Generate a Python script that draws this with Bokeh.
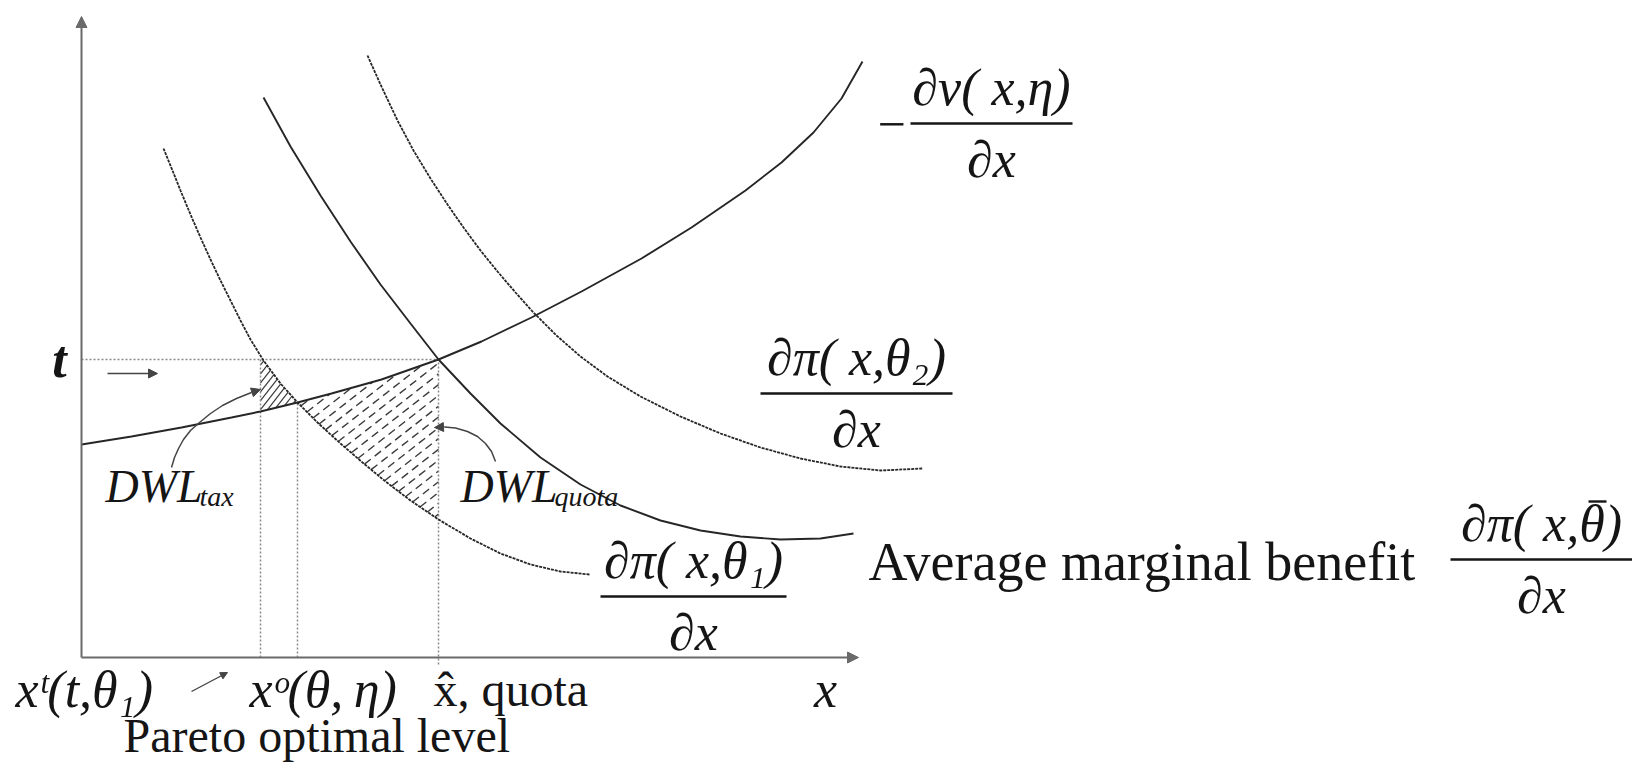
import numpy as np
from bokeh.plotting import figure
from bokeh.models import Range1d, Label, Arrow, NormalHead
from bokeh.embed import file_html
from bokeh.resources import INLINE

# ---------------------------------------------------------------------------
# Curves (horizontal: emissions x, vertical: money per unit of x)
# ---------------------------------------------------------------------------
# marginal damage  -dv(x,eta)/dx
md_x = [0, 5, 10, 15, 17.9, 21.6, 25, 30, 35.7, 40, 45, 50, 56, 61, 66.4, 70, 73.2, 76, 78.1]
md_y = [21.3, 22.1, 23.0, 24.0, 24.6, 25.5, 26.4, 27.8, 29.8, 31.6, 34.0, 36.6, 39.9, 43.0,
        46.7, 49.5, 52.5, 55.9, 59.6]

# marginal benefit of the low type  d pi(x,theta_1)/dx
mb1_x = [8.2, 9.1, 9.9, 10.9, 11.9, 12.9, 13.9, 14.9, 15.9, 16.9, 18.2, 19.9, 21.6, 23.7,
         25.9, 28.1, 30.4, 32.9, 35.7, 38.9, 41.9, 44.9, 47.9, 50.8]
mb1_y = [50.9, 48.7, 46.7, 44.3, 42.0, 39.8, 37.7, 35.7, 33.7, 31.8, 29.7, 27.4, 25.5, 23.4,
         21.4, 19.5, 17.6, 15.7, 13.8, 11.9, 10.4, 9.3, 8.6, 8.3]

# average marginal benefit  d pi(x,theta_bar)/dx
mbavg_x = [18.2, 20.9, 23.9, 26.9, 29.9, 32.9, 35.7, 38.9, 41.9, 45.9, 49.9, 53.9, 57.9,
           61.9, 65.9, 69.9, 73.9, 77.2]
mbavg_y = [56.0, 51.1, 46.2, 41.6, 37.3, 33.4, 29.8, 26.4, 23.4, 20.0, 17.3, 15.2, 13.7,
           12.7, 12.1, 11.8, 11.9, 12.4]

# marginal benefit of the high type  d pi(x,theta_2)/dx
mb2_x = [28.6, 29.9, 31.6, 33.2, 34.9, 36.6, 38.2, 39.9, 41.6, 43.4, 45.1, 47.5, 49.9, 52.6,
         55.9, 59.9, 63.9, 67.9, 71.9, 75.9, 79.9, 84.1]
mb2_y = [60.2, 57.3, 53.7, 50.7, 47.9, 45.3, 43.0, 40.7, 38.6, 36.5, 34.6, 32.2, 30.1, 28.1,
         26.1, 24.1, 22.4, 21.0, 19.9, 19.1, 18.7, 18.9]

# policy levels
t_level = 29.8      # tax
x_tax = 17.9        # x^t(t, theta_1)
x_opt = 21.6        # Pareto optimal x^o
x_quota = 35.7      # quota x-hat

x_axis_end = 77.7
y_axis_end = 64.1

# callout arrows
tax_arrow_x = [9.0, 9.3, 9.7, 10.2, 10.9, 11.8, 12.9, 14.1, 15.5, 17.0, 17.9]
tax_arrow_y = [19.0, 20.0, 20.9, 21.8, 22.7, 23.5, 24.4, 25.2, 25.9, 26.5, 26.8]
quota_arrow_x = [41.4, 41.0, 40.4, 39.6, 38.6, 37.4, 36.3, 35.3]
quota_arrow_y = [19.6, 20.6, 21.4, 22.1, 22.6, 22.95, 23.05, 23.0]

INK = "#151515"
CURVE = "#262626"
GRID = "#8a8a8a"
AXIS = "#6a6a6a"
SERIF = "Liberation Serif"

p = figure(width=1632, height=771, x_range=Range1d(-8.1, 155.1), y_range=Range1d(-11.4, 65.7),
           output_backend="svg", toolbar_location=None, min_border=0,
           x_axis_location=None, y_axis_location=None)
p.grid.visible = False
p.outline_line_color = None
p.background_fill_color = "white"
p.border_fill_color = "white"

md_xa, md_ya = np.array(md_x), np.array(md_y)
mb1_xa, mb1_ya = np.array(mb1_x), np.array(mb1_y)


def md(x):
    return float(np.interp(x, md_xa, md_ya))


def mb1(x):
    return float(np.interp(x, mb1_xa, mb1_ya))


# ---------------------------------------------------------------------------
# dead-weight-loss regions
# ---------------------------------------------------------------------------
x_cross = float(np.interp(t_level, mb1_ya[::-1], mb1_xa[::-1]))
s1 = (mb1_xa > x_cross) & (mb1_xa < x_opt)
sm = (md_xa > x_tax) & (md_xa < x_opt)
tax_px = [x_tax, x_cross] + list(mb1_xa[s1]) + [x_opt] + list(md_xa[sm][::-1]) + [x_tax]
tax_py = [t_level, t_level] + list(mb1_ya[s1]) + [md(x_opt)] + list(md_ya[sm][::-1]) + [md(x_tax)]

sm2 = (md_xa > x_opt) & (md_xa < x_quota)
s12 = (mb1_xa > x_opt) & (mb1_xa < x_quota)
quota_px = [x_opt] + list(md_xa[sm2]) + [x_quota, x_quota] + list(mb1_xa[s12][::-1])
quota_py = [md(x_opt)] + list(md_ya[sm2]) + [md(x_quota), mb1(x_quota)] + list(mb1_ya[s12][::-1])


def hatch_lines(px, py, angle_deg, spacing):
    """Clip a family of parallel lines to a polygon."""
    a = np.radians(angle_deg)
    d = np.array([np.cos(a), np.sin(a)])
    n = np.array([-d[1], d[0]])
    P = np.column_stack([px, py])
    offs = P @ n
    xs, ys = [], []
    for o in np.arange(offs.min() + spacing * 0.5, offs.max(), spacing):
        ts = []
        for i in range(len(P)):
            a0, a1 = P[i], P[(i + 1) % len(P)]
            f0, f1 = a0 @ n - o, a1 @ n - o
            if (f0 < 0) != (f1 < 0):
                r = f0 / (f0 - f1)
                ts.append((a0 + r * (a1 - a0)) @ d)
        ts.sort()
        for t0, t1 in zip(ts[0::2], ts[1::2]):
            q0, q1 = o * n + t0 * d, o * n + t1 * d
            xs.append([q0[0], q1[0]])
            ys.append([q0[1], q1[1]])
    return xs, ys


hx, hy = hatch_lines(tax_px, tax_py, 52, 0.55)
p.multi_line(hx, hy, line_color="#3a3a3a", line_width=1.2)
hx, hy = hatch_lines(quota_px, quota_py, 38, 0.85)
p.multi_line(hx, hy, line_color="#3a3a3a", line_width=1.4, line_dash="8 5")

# ---------------------------------------------------------------------------
# guide lines
# ---------------------------------------------------------------------------
guide = dict(line_color=GRID, line_width=1.5, line_dash="2 2")
p.line([0, x_quota], [t_level, t_level], **guide)
p.line([x_tax, x_tax], [0, t_level], **guide)
p.line([x_opt, x_opt], [0, md(x_opt)], **guide)
p.line([x_quota, x_quota], [-0.7, t_level], **guide)

# ---------------------------------------------------------------------------
# curves
# ---------------------------------------------------------------------------
p.line(mb1_x, mb1_y, line_color=CURVE, line_width=1.8, line_dash="3 1")
p.line(mb2_x, mb2_y, line_color=CURVE, line_width=1.8, line_dash="3 1")
p.line(mbavg_x, mbavg_y, line_color=CURVE, line_width=1.9)
p.line(md_x, md_y, line_color=CURVE, line_width=1.9)

# ---------------------------------------------------------------------------
# axes
# ---------------------------------------------------------------------------
def arrow(x0, y0, x1, y1, color=AXIS, width=2.0, size=11):
    p.add_layout(Arrow(x_start=x0, y_start=y0, x_end=x1, y_end=y1,
                       line_color=color, line_width=width,
                       end=NormalHead(size=size, fill_color=color, line_color=color,
                                      line_width=1)))


arrow(0, 0, 0, y_axis_end)
arrow(0, 0, x_axis_end, 0)

# small arrows
arrow(2.6, t_level - 1.4, 7.6, t_level - 1.4, color="#444444", width=1.6, size=9)
arrow(11.0, -3.4, 14.6, -1.5, color="#444444", width=1.4, size=7)

p.line(tax_arrow_x[:-1], tax_arrow_y[:-1], line_color="#444444", line_width=1.5)
arrow(tax_arrow_x[-2], tax_arrow_y[-2], tax_arrow_x[-1], tax_arrow_y[-1],
      color="#444444", width=1.5, size=9)
p.line(quota_arrow_x[:-1], quota_arrow_y[:-1], line_color="#444444", line_width=1.5)
arrow(quota_arrow_x[-2], quota_arrow_y[-2], quota_arrow_x[-1], quota_arrow_y[-1],
      color="#444444", width=1.5, size=9)

# ---------------------------------------------------------------------------
# text
# ---------------------------------------------------------------------------
def label(x, y, text, size=48, style="italic", align="left", baseline="alphabetic",
          x_offset=0, y_offset=0):
    p.add_layout(Label(x=x, y=y, text=text, text_font=SERIF, text_font_size=f"{size}px",
                       text_font_style=style, text_align=align, text_baseline=baseline,
                       text_color=INK, x_offset=x_offset, y_offset=y_offset))


def fraction(cx, bar_y, half_w, num, den="∂x", size=52):
    p.segment(x0=cx - half_w, y0=bar_y, x1=cx + half_w, y1=bar_y,
              line_color=INK, line_width=2.6)
    label(cx, bar_y + 3.6, num, size=size, align="center")
    label(cx, bar_y - 3.6, den, size=size, align="center")


fraction(91.0, 53.4, 8.1, "∂v( x,η)")
label(79.6, 53.3, "−", size=50, style="normal")
fraction(77.5, 26.4, 9.6, "∂π( x,θ₂)")
fraction(61.2, 6.1, 9.3, "∂π( x,θ₁)")
fraction(146.0, 9.8, 9.1, "∂π( x,θ)")
# bar over theta
p.segment(x0=150.7, y0=15.6, x1=152.5, y1=15.6, line_color=INK, line_width=2.4)
label(78.7, 9.6, "Average marginal benefit", size=54, style="normal")

label(0, t_level, "t", size=52, style="bold italic", align="center", baseline="middle",
      x_offset=-22)

label(2.4, 17.1, "DWL", size=46)
label(11.8, 16.1, "tax", size=28)
label(37.9, 17.1, "DWL", size=46)
label(47.3, 16.1, "quota", size=28)

label(-6.6, -3.2, "xᵗ(t,θ₁)", size=52)
label(16.8, -3.2, "xᵒ(θ,\u2009η)", size=52)
label(35.2, -3.2, "x̂, quota", style="normal")
label(74.4, -3.2, "x", size=52, align="center")
label(4.2, -7.8, "Pareto optimal level", style="normal")

open("out.html", "w").write(file_html(p, INLINE))
